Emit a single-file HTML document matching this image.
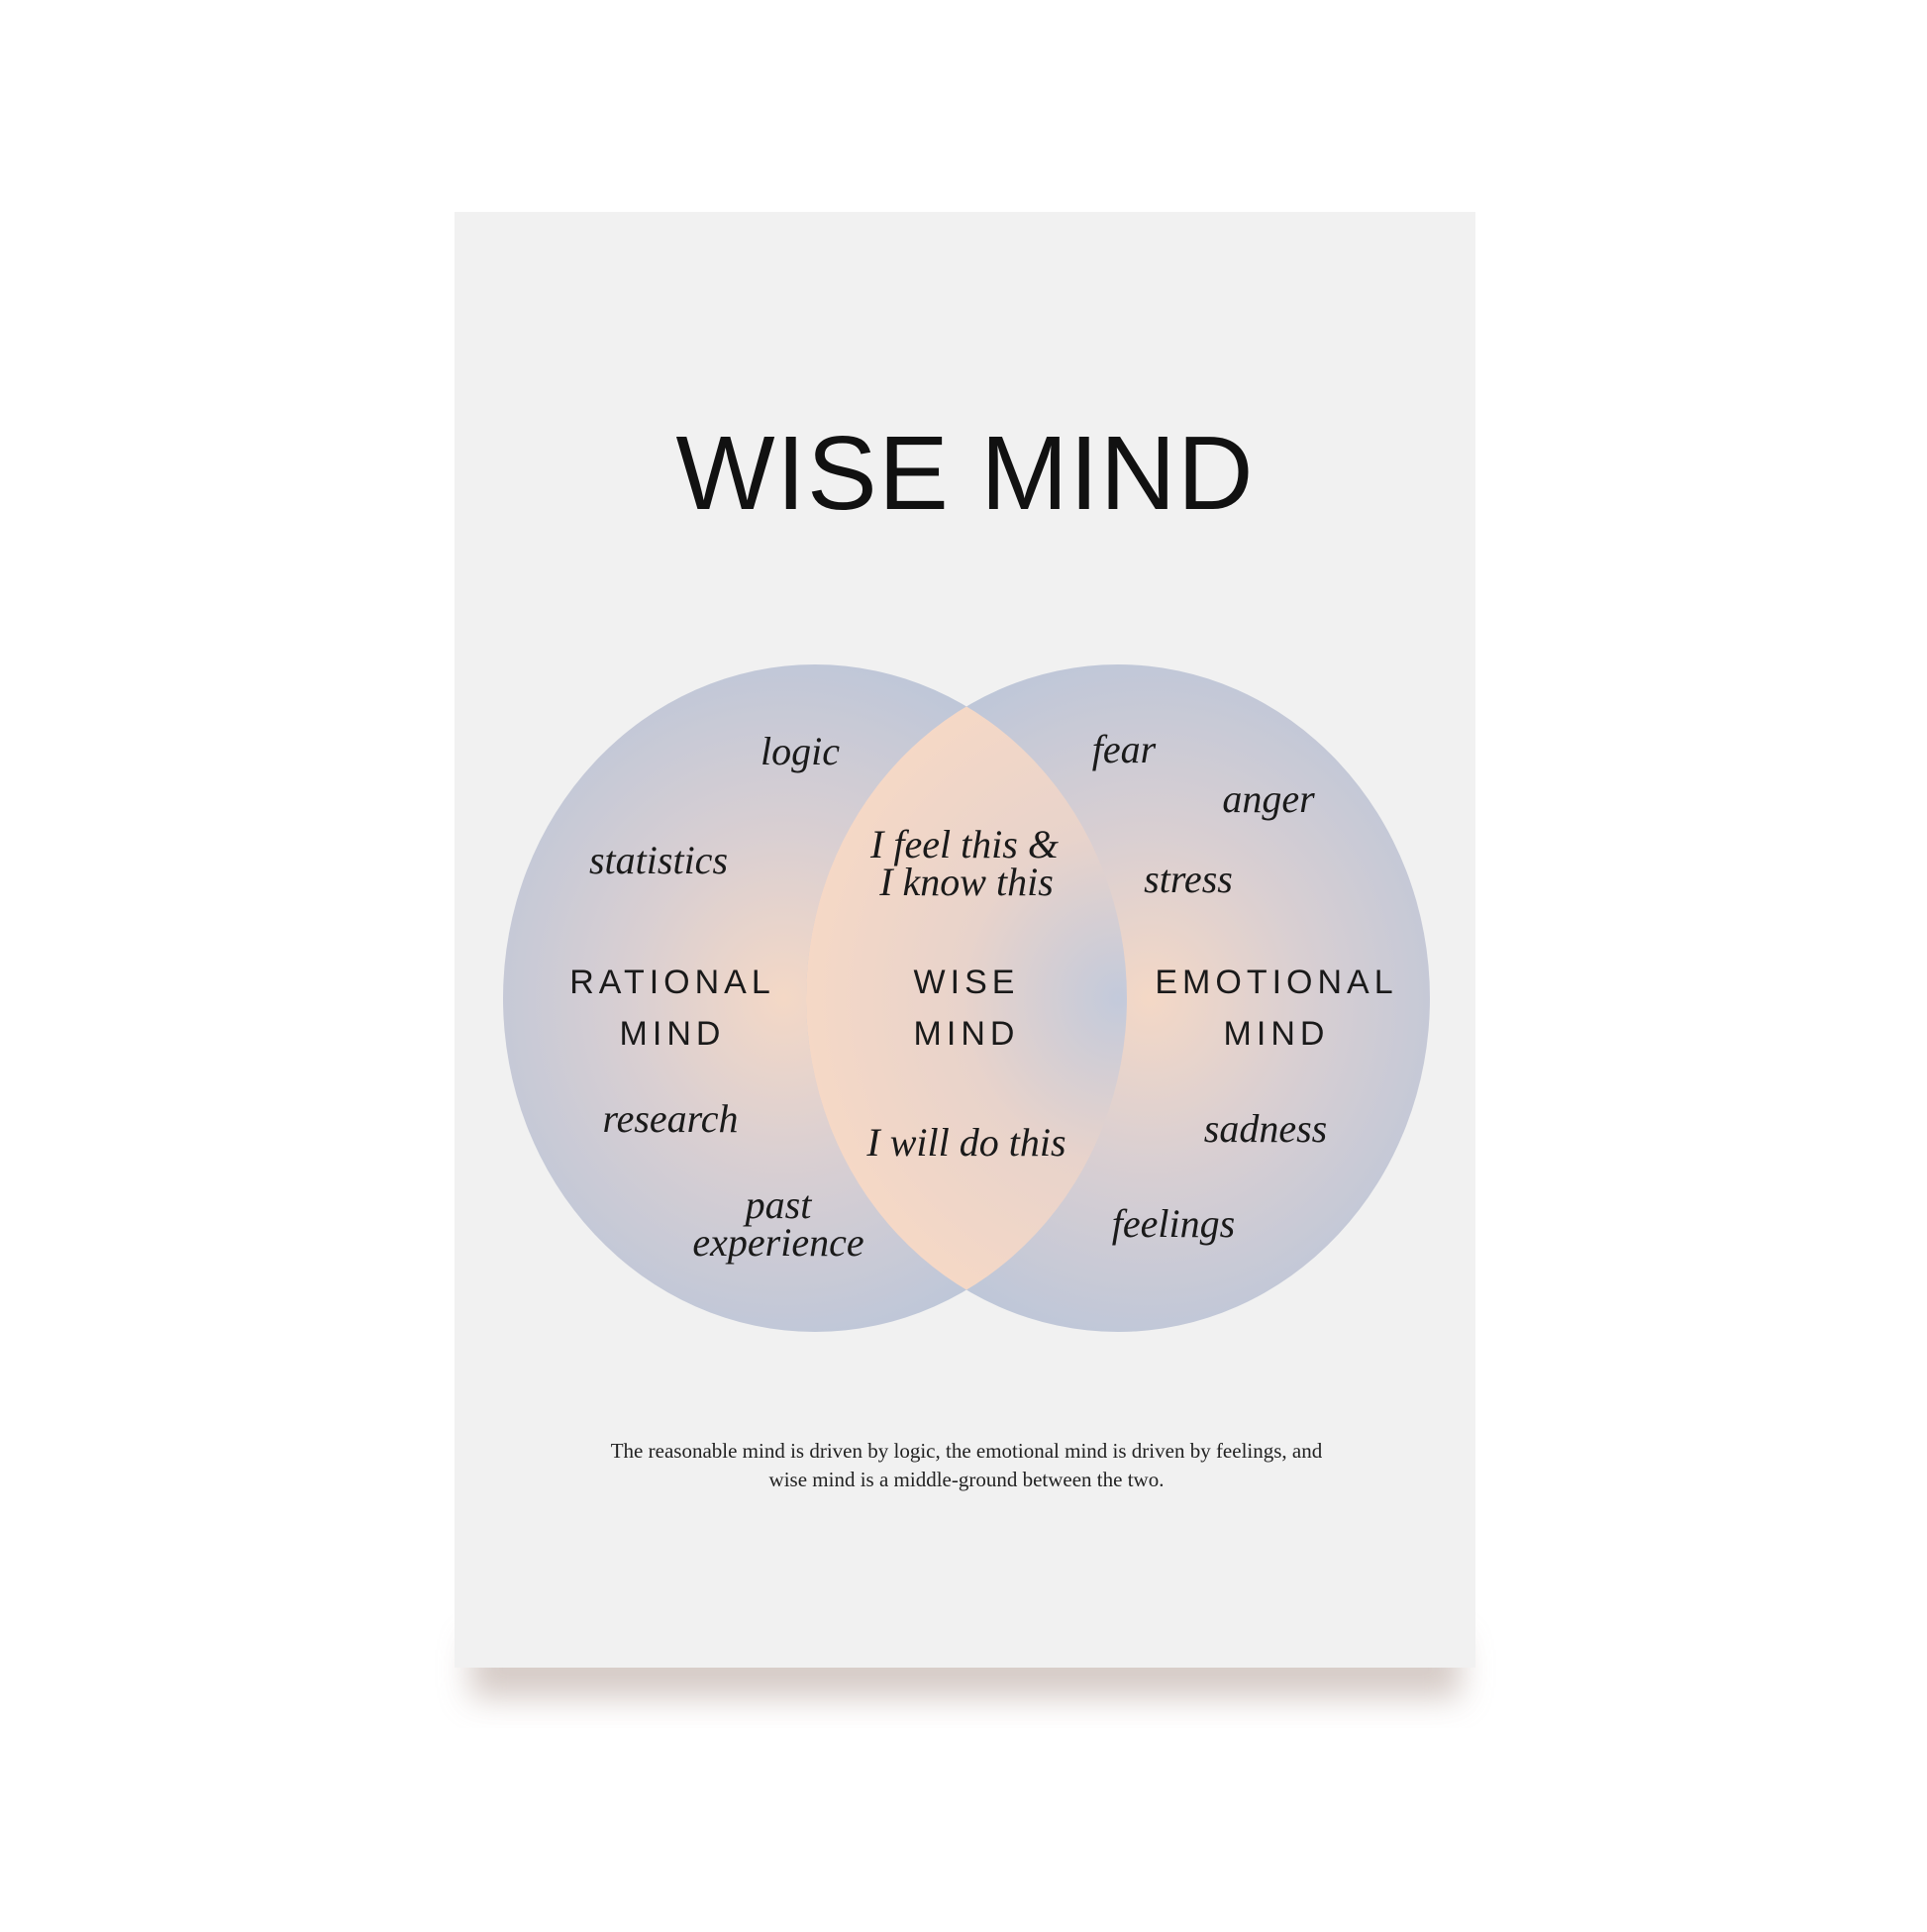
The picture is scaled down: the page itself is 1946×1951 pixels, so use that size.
<!DOCTYPE html>
<html><head><meta charset="utf-8"><style>
html,body{margin:0;padding:0;background:#fff;}
body{width:1946px;height:1946px;position:relative;overflow:hidden;}
</style></head><body>
<svg width="1946" height="1946" viewBox="0 0 1946 1946" xmlns="http://www.w3.org/2000/svg">
<defs>
<filter id="sh" x="-10%" y="-50%" width="120%" height="200%"><feGaussianBlur stdDeviation="16"/></filter>
<radialGradient id="gl" cx="0.45" cy="0.5" r="0.55">
<stop offset="0" stop-color="#f4d8c6"/><stop offset="0.45" stop-color="#d9cfd2"/><stop offset="1" stop-color="#bcc6d9"/></radialGradient>
<radialGradient id="gr" cx="0.55" cy="0.5" r="0.55">
<stop offset="0" stop-color="#f4d8c6"/><stop offset="0.45" stop-color="#d9cfd2"/><stop offset="1" stop-color="#bcc6d9"/></radialGradient>
<radialGradient id="gc" cx="0.5" cy="0.5" r="0.5">
<stop offset="0" stop-color="#c3cadb"/><stop offset="0.5" stop-color="#e8d3cb"/><stop offset="1" stop-color="#f5d8c6"/></radialGradient>
<clipPath id="cl"><ellipse cx="823" cy="1008" rx="315" ry="337"/></clipPath>
</defs>
<rect x="475" y="1655" width="1000" height="60" fill="#cfc2bd" filter="url(#sh)" opacity="0.85"/>
<rect x="459" y="214" width="1031" height="1470" fill="#f1f1f1"/>
<text x="976" y="514" text-anchor="middle" font-family="Liberation Sans, sans-serif" font-size="106" fill="#111" letter-spacing="4" textLength="587">WISE MIND</text>
<ellipse cx="823" cy="1008" rx="315" ry="337" fill="url(#gl)"/>
<ellipse cx="1129" cy="1008" rx="315" ry="337" fill="url(#gr)"/>
<ellipse cx="1129" cy="1008" rx="315" ry="337" fill="url(#gc)" clip-path="url(#cl)"/>
<g font-family="Liberation Serif, serif" font-style="italic" font-size="40" fill="#1a1a1a" text-anchor="middle">
<text x="808" y="772">logic</text>
<text x="665" y="882">statistics</text>
<text x="677" y="1143">research</text>
<text x="786" y="1230">past</text>
<text x="786" y="1268">experience</text>
<text x="1135" y="770">fear</text>
<text x="1281" y="820">anger</text>
<text x="1200" y="901">stress</text>
<text x="1278" y="1153">sadness</text>
<text x="1185" y="1249">feelings</text>
<text x="974" y="866">I feel this &amp;</text>
<text x="976" y="904">I know this</text>
<text x="976" y="1167">I will do this</text>
</g>
<g font-family="Liberation Sans, sans-serif" font-size="34" fill="#1a1a1a" text-anchor="middle" letter-spacing="5">
<text x="679" y="1003">RATIONAL</text>
<text x="679" y="1055">MIND</text>
<text x="976" y="1003">WISE</text>
<text x="976" y="1055">MIND</text>
<text x="1289" y="1003">EMOTIONAL</text>
<text x="1289" y="1055">MIND</text>
</g>
<g font-family="Liberation Serif, serif" font-size="21" fill="#222" text-anchor="middle">
<text x="976" y="1472">The reasonable mind is driven by logic, the emotional mind is driven by feelings, and</text>
<text x="976" y="1501">wise mind is a middle-ground between the two.</text>
</g>
</svg>
</body></html>
